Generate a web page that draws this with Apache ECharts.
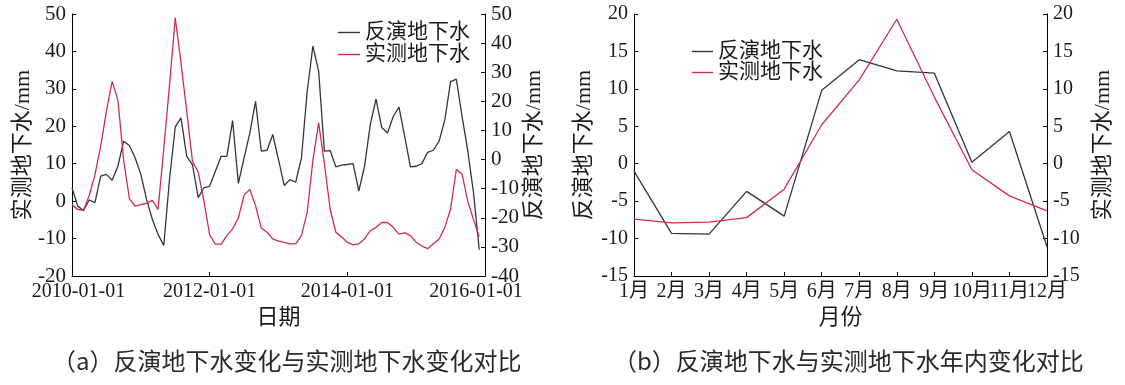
<!DOCTYPE html>
<html><head><meta charset="utf-8">
<script src="https://cdn.jsdelivr.net/npm/echarts@6/dist/echarts.min.js"></script>
<style>html,body{margin:0;padding:0;background:#fff;}#c{width:1125px;height:385px;}</style>
</head><body><div id="c"></div>
<script>
// ---------- Panel (a): monthly series 2010-01 .. 2015-12 ----------
const xTickLabelsA = ['2010-01-01', '2012-01-01', '2014-01-01', '2016-01-01'];
const datesA = [];
for (let y = 2010; y <= 2016; y++) {
  for (let m = 1; m <= 12; m++) {
    if (y === 2016 && m > 1) break;
    datesA.push(y + '-' + (m < 10 ? '0' + m : m) + '-01');
  }
}
// 反演地下水 (right axis, mm)
const invA = [-9.7, -16, -17.5, -13.9, -14.8, -5.7, -5.1, -7.1, -2.3, 6.3, 4.8, 0.6,
  -5.1, -13.7, -20.5, -25.7, -29.5, -6.8, 11.2, 14.3, 1.1, -1.7, -13.1, -9.7,
  -9.1, -4, 1.1, 1.1, 13.4, -8.2, 0.6, 9.1, 20, 2.9, 3.2, 8.6,
  0, -8.9, -6.9, -7.8, 0.6, 23.4, 39, 30.3, 2.9, 3.1, -2.5, -1.9,
  -1.7, -1.4, -10.8, -2.3, 12, 20.8, 11, 9.1, 14.8, 18, 8, -2.5,
  -2.3, -1.4, 2.5, 3.2, 6.3, 13.7, 26.8, 27.6, 14.8, 3, -11.5, -31];
// 实测地下水 (left axis, mm)
const obsA = [-1.0, -2.2, -2.5, 1.5, 7, 14.7, 24, 32, 27, 11, 0.7, -1.3,
  -0.9, -0.6, 0.2, -2.2, 14, 31, 49, 37, 24, 10.7, 7.8, 0,
  -9, -11.5, -11.5, -9.2, -7.4, -4.5, 1.6, 3.1, -1.2, -7.2, -8.3, -10.1,
  -10.7, -11, -11.4, -11.4, -9.2, -3, 11, 20.9, 10, -2.1, -8.3, -9.6,
  -11, -11.7, -11.4, -10.1, -7.9, -7.0, -5.7, -5.7, -7.0, -8.8, -8.5, -9.2,
  -11, -12, -12.7, -11.4, -10.1, -7, -2.1, 8.5, 7.2, 0, -5, -9.5];

// ---------- Panel (b): mean annual cycle ----------
const monthsB = ['1月', '2月', '3月', '4月', '5月', '6月', '7月', '8月', '9月', '10月', '11月', '12月'];
const invB = [-1.0, -9.3, -9.4, -3.7, -7.0, 9.8, 13.9, 12.4, 12.1, 0.2, 4.3, -11.1];
const obsB = [-7.4, -7.9, -7.8, -7.2, -3.4, 5.2, 11.2, 19.3, 8.9, -0.8, -4.3, -6.3];

const FONT = '"Liberation Serif", "Noto Sans CJK SC", serif';
const TXT = '#1a1a1a';
const BLACK = '#2e3838';
const RED = '#d22c4c';

function yAxisCfg(grid, pos, min, max, interval, name, gap, fs) {
  return {
    type: 'value', gridIndex: grid, position: pos, min: min, max: max, interval: interval,
    name: name, nameLocation: 'middle', nameRotate: 90, nameGap: gap,
    nameTextStyle: { fontFamily: FONT, fontSize: 22, color: TXT },
    axisLine: { show: true, onZero: false, lineStyle: { color: '#000', width: 1 } },
    axisTick: { show: true, inside: true, length: 4, lineStyle: { color: '#000' } },
    axisLabel: { fontFamily: FONT, fontSize: fs, color: TXT, margin: 6 },
    splitLine: { show: false }
  };
}

const legendText = { fontFamily: FONT, fontSize: 21, color: TXT, lineHeight: 21 };

const chart = echarts.init(document.getElementById('c'), null, { renderer: 'canvas' });
chart.setOption({
  animation: false,
  backgroundColor: '#fff',
  grid: [
    { left: 72, right: 640, top: 14, bottom: 109 },
    { left: 634, right: 78, top: 14, bottom: 109 }
  ],
  legend: [
    {
      data: ['反演地下水', '实测地下水'], orient: 'vertical', left: 333, top: 17,
      icon: 'rect', itemWidth: 22, itemHeight: 1.4, itemGap: 1,
      textStyle: legendText
    },
    {
      data: ['反演地下水', '实测地下水'], orient: 'vertical', left: 687, top: 36,
      icon: 'rect', itemWidth: 21, itemHeight: 1.4, itemGap: 0,
      textStyle: legendText
    }
  ],
  xAxis: [
    {
      type: 'category', gridIndex: 0, data: datesA, boundaryGap: false,
      name: '日期', nameLocation: 'middle', nameGap: 29,
      nameTextStyle: { fontFamily: FONT, fontSize: 22, color: TXT },
      axisLine: { onZero: false, lineStyle: { color: '#000', width: 1 } },
      axisTick: { inside: true, length: 4, lineStyle: { color: '#000' },
        interval: function (i, v) { return xTickLabelsA.indexOf(v) >= 0 && i > 0 && i < datesA.length - 1; } },
      axisLabel: {
        fontFamily: FONT, fontSize: 20, color: TXT, margin: 6,
        interval: function (i, v) { return xTickLabelsA.indexOf(v) >= 0; },
        formatter: function (v, i) {
          if (i === 0) return '{f|' + v + '}';
          if (i === datesA.length - 1) return '{l|' + v + '}';
          return v;
        },
        rich: {
          f: { fontFamily: FONT, fontSize: 20, color: TXT, padding: [0, 0, 0, 13] },
          l: { fontFamily: FONT, fontSize: 20, color: TXT, padding: [0, 18, 0, 0] }
        }
      },
      splitLine: { show: false }
    },
    {
      type: 'category', gridIndex: 1, data: monthsB, boundaryGap: false,
      name: '月份', nameLocation: 'middle', nameGap: 29,
      nameTextStyle: { fontFamily: FONT, fontSize: 22, color: TXT },
      axisLine: { onZero: false, lineStyle: { color: '#000', width: 1 } },
      axisTick: { inside: true, length: 4, lineStyle: { color: '#000' },
        interval: function (i) { return i > 0 && i < monthsB.length - 1; } },
      axisLabel: { fontFamily: FONT, fontSize: 20, color: TXT, margin: 6, interval: 0 },
      splitLine: { show: false }
    }
  ],
  yAxis: [
    yAxisCfg(0, 'left', -20, 50, 10, '实测地下水/mm', 37, 21),
    yAxisCfg(0, 'right', -40, 50, 10, '反演地下水/mm', 36, 21),
    yAxisCfg(1, 'left', -15, 20, 5, '反演地下水/mm', 39, 20),
    yAxisCfg(1, 'right', -15, 20, 5, '实测地下水/mm', 45, 20)
  ],
  series: [
    { name: '反演地下水', type: 'line', xAxisIndex: 0, yAxisIndex: 1, data: invA,
      symbol: 'none', lineStyle: { color: BLACK, width: 1.3 }, itemStyle: { color: BLACK } },
    { name: '实测地下水', type: 'line', xAxisIndex: 0, yAxisIndex: 0, data: obsA,
      symbol: 'none', lineStyle: { color: RED, width: 1.3 }, itemStyle: { color: RED } },
    { name: '反演地下水', type: 'line', xAxisIndex: 1, yAxisIndex: 2, data: invB,
      symbol: 'none', lineStyle: { color: BLACK, width: 1.3 }, itemStyle: { color: BLACK } },
    { name: '实测地下水', type: 'line', xAxisIndex: 1, yAxisIndex: 3, data: obsB,
      symbol: 'none', lineStyle: { color: RED, width: 1.3 }, itemStyle: { color: RED } }
  ],
  graphic: [
    { type: 'text', left: 52, top: 349,
      style: { text: '（a）反演地下水变化与实测地下水变化对比', font: '24px "Noto Sans CJK SC"', fill: '#2a2a2a' } },
    { type: 'text', left: 613, top: 349,
      style: { text: '（b）反演地下水与实测地下水年内变化对比', font: '24px "Noto Sans CJK SC"', fill: '#2a2a2a' } }
  ]
});
</script>
</body></html>
